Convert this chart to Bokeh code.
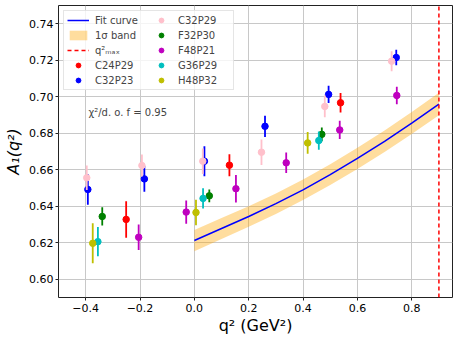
from bokeh.plotting import figure
from bokeh.models import Range1d, FixedTicker, CustomJSTickFormatter, Legend, LegendItem, Label
from bokeh.embed import file_html
from bokeh.resources import INLINE

# ---- data ----
ensembles = ["C24P29", "C32P23", "C32P29", "F32P30", "F48P21", "G36P29", "H48P32"]
colors = ["red", "blue", "pink", "green", "#bf00bf", "#00bfbf", "#bfbf00"]

q2_C24P29 = [-0.251, 0.129, 0.538]
A_C24P29 = [0.6328, 0.6625, 0.6967]
e_C24P29 = [0.0100, 0.0060, 0.0053]

q2_C32P23 = [-0.392, -0.184, 0.037, 0.260, 0.494, 0.743]
A_C32P23 = [0.6492, 0.6550, 0.6647, 0.6838, 0.7013, 0.7215]
e_C32P23 = [0.0084, 0.0070, 0.0082, 0.0058, 0.0047, 0.0043]

q2_C32P29 = [-0.396, -0.193, 0.031, 0.247, 0.480, 0.726]
A_C32P29 = [0.6556, 0.6623, 0.6647, 0.6696, 0.6947, 0.7195]
e_C32P29 = [0.0067, 0.0060, 0.0070, 0.0070, 0.0060, 0.0055]

q2_F32P30 = [-0.339, 0.055, 0.469]
A_F32P30 = [0.6344, 0.6457, 0.6794]
e_F32P30 = [0.0050, 0.0035, 0.0038]

q2_F48P21 = [-0.205, -0.030, 0.153, 0.338, 0.535, 0.745]
A_F48P21 = [0.6230, 0.6368, 0.6496, 0.6638, 0.6818, 0.7007]
e_F48P21 = [0.0070, 0.0064, 0.0075, 0.0056, 0.0050, 0.0048]

q2_G36P29 = [-0.355, 0.032, 0.458]
A_G36P29 = [0.6206, 0.6443, 0.6760]
e_G36P29 = [0.0080, 0.0055, 0.0050]

q2_H48P32 = [-0.374, 0.006, 0.417]
A_H48P32 = [0.6197, 0.6366, 0.6747]
e_H48P32 = [0.0110, 0.0070, 0.0060]

fit_q2 = [0.0, 0.1, 0.2, 0.3, 0.4, 0.5, 0.6, 0.7, 0.8, 0.9]
fit_A = [0.6212, 0.6278, 0.6344, 0.6414, 0.6490, 0.6573, 0.6662, 0.6756, 0.6856, 0.6960]
fit_err = [0.0058, 0.0057, 0.0056, 0.0056, 0.0056, 0.0057, 0.0058, 0.0059, 0.0060, 0.0062]

q2_max = 0.9
x_ticks = [-0.4, -0.2, 0.0, 0.2, 0.4, 0.6, 0.8]
y_ticks = [0.60, 0.62, 0.64, 0.66, 0.68, 0.70, 0.72, 0.74]
x_lim = (-0.5, 0.95)
y_lim = (0.59, 0.75)

series = [
    (q2_C24P29, A_C24P29, e_C24P29),
    (q2_C32P23, A_C32P23, e_C32P23),
    (q2_C32P29, A_C32P29, e_C32P29),
    (q2_F32P30, A_F32P30, e_F32P30),
    (q2_F48P21, A_F48P21, e_F48P21),
    (q2_G36P29, A_G36P29, e_G36P29),
    (q2_H48P32, A_H48P32, e_H48P32),
]

p = figure(width=458, height=342, output_backend="svg", toolbar_location=None,
           x_range=Range1d(*x_lim), y_range=Range1d(*y_lim),
           min_border_left=58, min_border_right=6, min_border_top=5, min_border_bottom=45)

p.outline_line_color = "#222222"
p.outline_line_width = 1
p.background_fill_color = "white"

for ax in (p.xaxis[0], p.yaxis[0]):
    ax.axis_line_color = None
    ax.major_tick_in = 0
    ax.major_tick_out = 3
    ax.major_tick_line_color = "#222222"
    ax.minor_tick_line_color = None
    ax.major_label_text_font = "DejaVu Sans"
    ax.major_label_text_font_size = "11px"
    ax.major_label_text_color = "black"
    ax.axis_label_text_font = "DejaVu Sans"
    ax.axis_label_text_font_size = "16px"
    ax.axis_label_text_color = "black"
    ax.major_label_standoff = 2
    ax.axis_label_standoff = 3

p.xaxis.major_label_standoff = 3
p.xaxis.axis_label_standoff = 1
p.xaxis.ticker = FixedTicker(ticks=x_ticks)
p.yaxis.ticker = FixedTicker(ticks=y_ticks)
p.xaxis.formatter = CustomJSTickFormatter(code="return tick.toFixed(1).replace('-', '\u2212');")
p.yaxis.formatter = CustomJSTickFormatter(code="return tick.toFixed(2);")
p.xaxis.axis_label = "q\u00b2 (GeV\u00b2)"
p.yaxis.axis_label = "A\u2081(q\u00b2)"
p.yaxis.axis_label_text_font_style = "italic"
p.xaxis.axis_label_text_font_style = "normal"

p.xgrid.ticker = FixedTicker(ticks=x_ticks)
p.ygrid.ticker = FixedTicker(ticks=y_ticks)
p.grid.grid_line_color = "#c8c8c8"
p.grid.grid_line_width = 1

# band and fit curve
lo = [a - e for a, e in zip(fit_A, fit_err)]
hi = [a + e for a, e in zip(fit_A, fit_err)]
band = p.varea(x=fit_q2, y1=lo, y2=hi, fill_color="orange", fill_alpha=0.38)
curve = p.line(fit_q2, fit_A, line_color="blue", line_width=1.5)
qline = p.line([q2_max, q2_max], [y_lim[0], y_lim[1]], line_color="red",
               line_dash="4 3", line_width=1.5)

items = [
    LegendItem(label="Fit curve", renderers=[curve]),
    LegendItem(label="1\u03c3 band", renderers=[band]),
    LegendItem(label="q\u00b2\u2098\u2090\u2093", renderers=[qline]),
]

for name, col, (qs, As, es) in zip(ensembles, colors, series):
    lo_e = [a - e for a, e in zip(As, es)]
    hi_e = [a + e for a, e in zip(As, es)]
    p.segment(x0=qs, y0=lo_e, x1=qs, y1=hi_e, line_color=col, line_width=1.8)
    sc = p.scatter(qs, As, marker="circle", size=6.5, fill_color=col, line_color=col)
    items.append(LegendItem(label=name, renderers=[sc]))

legend = Legend(items=items, location="top_left", nrows=5)
legend.margin = 5
legend.padding = 3
legend.spacing = 3
legend.glyph_width = 22
legend.glyph_height = 12
legend.label_height = 12
legend.label_width = 52
legend.label_standoff = 6
legend.label_text_font = "DejaVu Sans"
legend.label_text_font_size = "10px"
legend.border_line_color = "#cccccc"
legend.border_line_width = 1
legend.background_fill_alpha = 0.8
p.add_layout(legend)

p.add_layout(Label(x=-0.39, y=0.6915, text="\u03c7\u00b2/d. o. f = 0.95",
                   text_font="DejaVu Sans", text_font_size="10px", text_baseline="middle"))

open("out.html", "w").write(file_html(p, INLINE))
